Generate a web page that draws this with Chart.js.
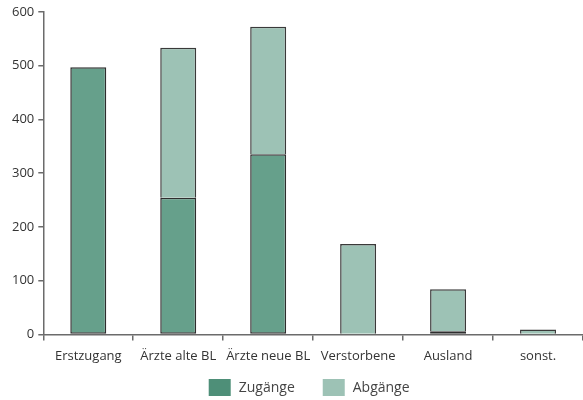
<!DOCTYPE html>
<html>
<head>
<meta charset="utf-8">
<script src="https://cdn.jsdelivr.net/npm/chart.js@4/dist/chart.umd.min.js"></script>
<style>
  html, body { margin: 0; padding: 0; background: #fff; }
  #wrap { width: 583px; height: 400px; }
</style>
</head>
<body>
<div id="wrap"><canvas id="chart" width="583" height="400"></canvas></div>
<script>
const categories = ['Erstzugang', 'Ärzte alte BL', 'Ärzte neue BL', 'Verstorbene', 'Ausland', 'sonst.']
const zugaenge = [497, 254, 335, null, 6, null]
const abgaenge = [null, 279, 237, 168, 78, 9]
const yTicks = [0, 100, 200, 300, 400, 500, 600]

const zugangFill = '#66a08b'
const abgangFill = '#9dc2b5'
const zugangLegend = '#4e8f78'
const axisColor = '#6b6b6b'
const textColor = '#333333'
const fontFamily = '"Open Sans", sans-serif'

Chart.defaults.font.family = fontFamily
Chart.defaults.font.size = 13
Chart.defaults.color = textColor

// no outline for empty segments
const outline = ctx => (ctx.raw == null ? 0 : 1.5)

// wide-spaced legend row under the axis, centred on the plot area
const spacedLegend = {
    id: 'spacedLegend',
    afterDraw(chart, args, opts) {
        const { ctx, chartArea } = chart
        const swatches = [zugangLegend, abgangFill]
        ctx.save()
        ctx.font = `${opts.fontSize}px ${fontFamily}`
        ctx.textBaseline = 'middle'
        const items = chart.data.datasets.map((ds, i) => ({
            text: ds.label,
            fill: swatches[i],
            width: opts.boxWidth + opts.textGap + ctx.measureText(ds.label).width,
        }))
        const total = items.reduce((s, it) => s + it.width, 0) + opts.itemGap * (items.length - 1)
        let x = (chartArea.left + chartArea.right) / 2 - total / 2 + opts.shift
        const y = chart.height - opts.bottom - opts.boxHeight / 2
        items.forEach(it => {
            ctx.fillStyle = it.fill
            ctx.fillRect(x, y - opts.boxHeight / 2, opts.boxWidth, opts.boxHeight)
            ctx.fillStyle = opts.color
            ctx.fillText(it.text, x + opts.boxWidth + opts.textGap, y + 1)
            x += it.width + opts.itemGap
        })
        ctx.restore()
    },
}

new Chart(document.getElementById('chart'), {
    type: 'bar',
    data: {
        labels: categories,
        datasets: [
            {
                label: 'Zugänge',
                data: zugaenge,
                backgroundColor: zugangFill,
                borderColor: '#2e2e2e',
                borderWidth: outline,
                borderSkipped: false,
            },
            {
                label: 'Abgänge',
                data: abgaenge,
                backgroundColor: abgangFill,
                borderColor: '#3a3a3a',
                borderWidth: outline,
                borderSkipped: 'bottom',
            },
        ],
    },
    options: {
        responsive: false,
        animation: false,
        categoryPercentage: 1,
        barPercentage: 0.4,
        layout: { padding: { top: 10, right: 0, left: 8, bottom: 28 } },
        plugins: {
            tooltip: { enabled: false },
            legend: { display: false },
            spacedLegend: {
                boxWidth: 22,
                boxHeight: 17,
                textGap: 8,
                itemGap: 28,
                fontSize: 14,
                bottom: 4,
                shift: -4,
                color: '#444',
            },
        },
        scales: {
            x: {
                stacked: true,
                border: { display: true, color: axisColor, width: 1.5 },
                grid: {
                    offset: true,
                    drawOnChartArea: false,
                    drawTicks: true,
                    tickLength: 6,
                    color: axisColor,
                    lineWidth: 1.5,
                },
                ticks: { padding: 8, color: textColor, maxRotation: 0, minRotation: 0, autoSkip: false },
            },
            y: {
                stacked: true,
                min: 0,
                max: 600,
                afterBuildTicks(axis) {
                    axis.ticks = yTicks.map(v => ({ value: v }))
                },
                border: { display: true, color: axisColor, width: 1.5 },
                grid: {
                    drawOnChartArea: false,
                    drawTicks: true,
                    tickLength: 5,
                    color: axisColor,
                    lineWidth: 1.5,
                },
                ticks: { padding: 4, color: textColor },
            },
        },
    },
    plugins: [spacedLegend],
})
</script>
</body>
</html>
